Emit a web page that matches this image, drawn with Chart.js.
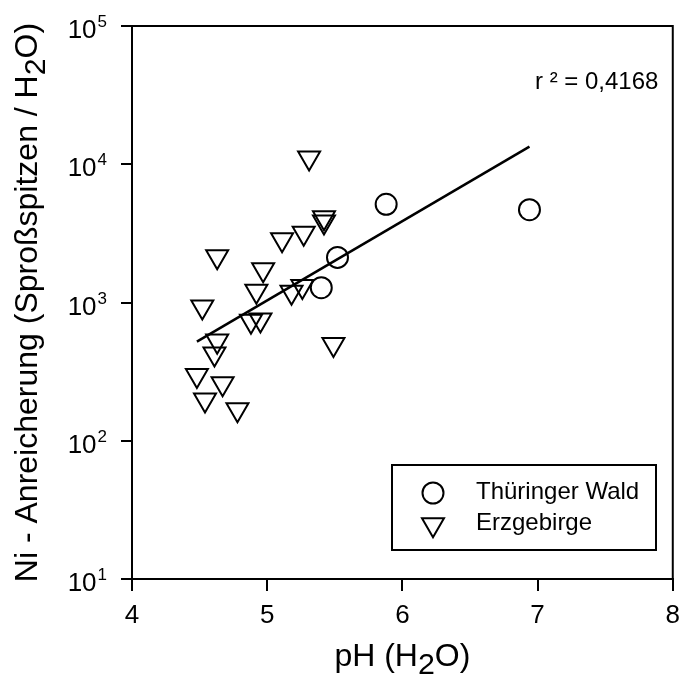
<!DOCTYPE html>
<html><head><meta charset="utf-8">
<script src="https://cdn.jsdelivr.net/npm/chart.js@4/dist/chart.umd.min.js"></script>
<style>html,body{margin:0;padding:0;background:#fff;} #wrap{width:689px;height:682px;position:relative;}</style>
</head><body><div id="wrap"><canvas id="c" width="689" height="682"></canvas></div>
<script>
// ---- data ----
const xTicks = [4, 5, 6, 7, 8];
const yExponents = [1, 2, 3, 4, 5];
const thuringerLabel = 'Thüringer Wald';
const thuringerPH = [5.88, 6.94, 5.52, 5.40];
const thuringerNi = [5130, 4690, 2120, 1280];
const erzLabel = 'Erzgebirge';
const erzPH = [5.31, 5.42, 5.42, 5.27, 5.11, 4.63, 4.97, 4.92, 5.18, 5.26, 4.52, 4.88, 4.95, 4.63, 4.61, 5.49, 4.48, 4.67, 4.54, 4.78];
const erzNi = [11140, 4110, 3830, 3180, 2850, 2150, 1730, 1210, 1190, 1310, 930, 735, 750, 527, 426, 498, 297, 259, 198, 168];
const fitPH = [4.48, 6.94];
const fitNi = [521, 13400];
const r2Text = 'r ² = 0,4168';
const xTitle = ['pH (H', '2', 'O)'];
const yTitle = ['Ni - Anreicherung (Sproßspitzen / H', '2', 'O)'];

const FONT = '"Liberation Sans", Arial, sans-serif';
const toXY = (xs, ys) => xs.map((x, i) => ({x: x, y: ys[i]}));

function drawSubText(ctx, parts, size, x, y) {
  const subSize = size * 0.95;
  ctx.font = size + 'px ' + FONT;
  const w0 = ctx.measureText(parts[0]).width;
  const w2 = ctx.measureText(parts[2]).width;
  ctx.font = subSize + 'px ' + FONT;
  const w1 = ctx.measureText(parts[1]).width;
  let cx = x - (w0 + w1 + w2) / 2;
  ctx.textAlign = 'left';
  ctx.textBaseline = 'alphabetic';
  ctx.font = size + 'px ' + FONT;
  ctx.fillText(parts[0], cx, y); cx += w0;
  ctx.font = subSize + 'px ' + FONT;
  ctx.fillText(parts[1], cx, y + size * 0.25); cx += w1;
  ctx.font = size + 'px ' + FONT;
  ctx.fillText(parts[2], cx, y);
}

const customDraw = {
  id: 'customDraw',
  afterDraw(chart) {
    const ctx = chart.ctx;
    const a = chart.chartArea;
    const ys = chart.scales.y;
    ctx.save();
    ctx.fillStyle = '#000';
    ctx.strokeStyle = '#000';
    // frame
    ctx.lineWidth = 2;
    ctx.strokeRect(a.left, a.top, a.right - a.left, a.bottom - a.top);
    // y tick labels 10^n
    yExponents.forEach(e => {
      const py = ys.getPixelForValue(Math.pow(10, e));
      ctx.font = '17px ' + FONT;
      const sw = ctx.measureText(String(e)).width;
      const right = a.left - 25;
      ctx.textAlign = 'left';
      ctx.textBaseline = 'alphabetic';
      ctx.fillText(String(e), right - sw, py + 1);
      ctx.font = '26px ' + FONT;
      ctx.textAlign = 'right';
      ctx.fillText('10', right - sw - 1, py + 12);
    });
    // axis titles
    drawSubText(ctx, xTitle, 32, (a.left + a.right) / 2, 666);
    ctx.save();
    ctx.translate(37, (a.top + a.bottom) / 2);
    ctx.rotate(-Math.PI / 2);
    drawSubText(ctx, yTitle, 32, 0, 0);
    ctx.restore();
    // r^2 text
    ctx.font = '24px ' + FONT;
    ctx.textAlign = 'left';
    ctx.textBaseline = 'alphabetic';
    ctx.fillText(r2Text, 535, 89);
    // legend
    ctx.lineWidth = 2;
    ctx.strokeRect(392, 465, 264, 85);
    const ds = chart.data.datasets;
    const items = [ds[0], ds[1]];
    const symY = [493, 524.5];
    const txtY = [499, 530];
    items.forEach((d, i) => {
      ctx.fillStyle = 'rgba(0,0,0,0)';
      ctx.strokeStyle = '#000';
      ctx.lineWidth = 2;
      Chart.helpers.drawPoint(ctx, {
        pointStyle: d.pointStyle, rotation: d.rotation || 0,
        radius: d.pointRadius, borderWidth: 2
      }, 433, symY[i]);
      ctx.fillStyle = '#000';
      ctx.font = '24px ' + FONT;
      ctx.textAlign = 'left';
      ctx.textBaseline = 'alphabetic';
      ctx.fillText(d.label, 476, txtY[i]);
    });
    ctx.restore();
  }
};

new Chart(document.getElementById('c'), {
  type: 'scatter',
  data: {
    datasets: [
      {label: thuringerLabel, data: toXY(thuringerPH, thuringerNi), pointStyle: 'circle', pointRadius: 10.5,
       borderColor: '#000', backgroundColor: 'rgba(0,0,0,0)', borderWidth: 2, showLine: false},
      {label: erzLabel, data: toXY(erzPH, erzNi), pointStyle: 'triangle', rotation: 180, pointRadius: 12.7,
       borderColor: '#000', backgroundColor: 'rgba(0,0,0,0)', borderWidth: 2, showLine: false},
      {label: 'fit', data: toXY(fitPH, fitNi), showLine: true, pointRadius: 0, borderColor: '#000',
       borderWidth: 2.5, fill: false, tension: 0}
    ]
  },
  options: {
    responsive: false,
    animation: false,
    events: [],
    layout: {padding: {top: 26, right: 6, left: 0, bottom: 0}},
    plugins: {legend: {display: false}, tooltip: {enabled: false}, title: {display: false}},
    elements: {point: {hoverRadius: 0}},
    scales: {
      x: {
        type: 'linear', min: 4, max: 8,
        afterBuildTicks: s => { s.ticks = xTicks.map(v => ({value: v})); },
        ticks: {color: '#000', font: {family: FONT, size: 26}, padding: 9},
        grid: {drawOnChartArea: false, drawTicks: true, tickLength: 12, color: '#000', lineWidth: 2},
        border: {display: true, color: '#000', width: 2},
        afterFit: s => { s.height = 103; }
      },
      y: {
        type: 'logarithmic', min: 10, max: 100000,
        afterBuildTicks: s => { s.ticks = yExponents.map(e => ({value: Math.pow(10, e)})); },
        ticks: {callback: () => '', color: '#000'},
        grid: {drawOnChartArea: false, drawTicks: true, tickLength: 11, color: '#000', lineWidth: 2},
        border: {display: true, color: '#000', width: 2},
        afterFit: s => { s.width = 132; }
      }
    }
  },
  plugins: [customDraw]
});
</script>
</body></html>
